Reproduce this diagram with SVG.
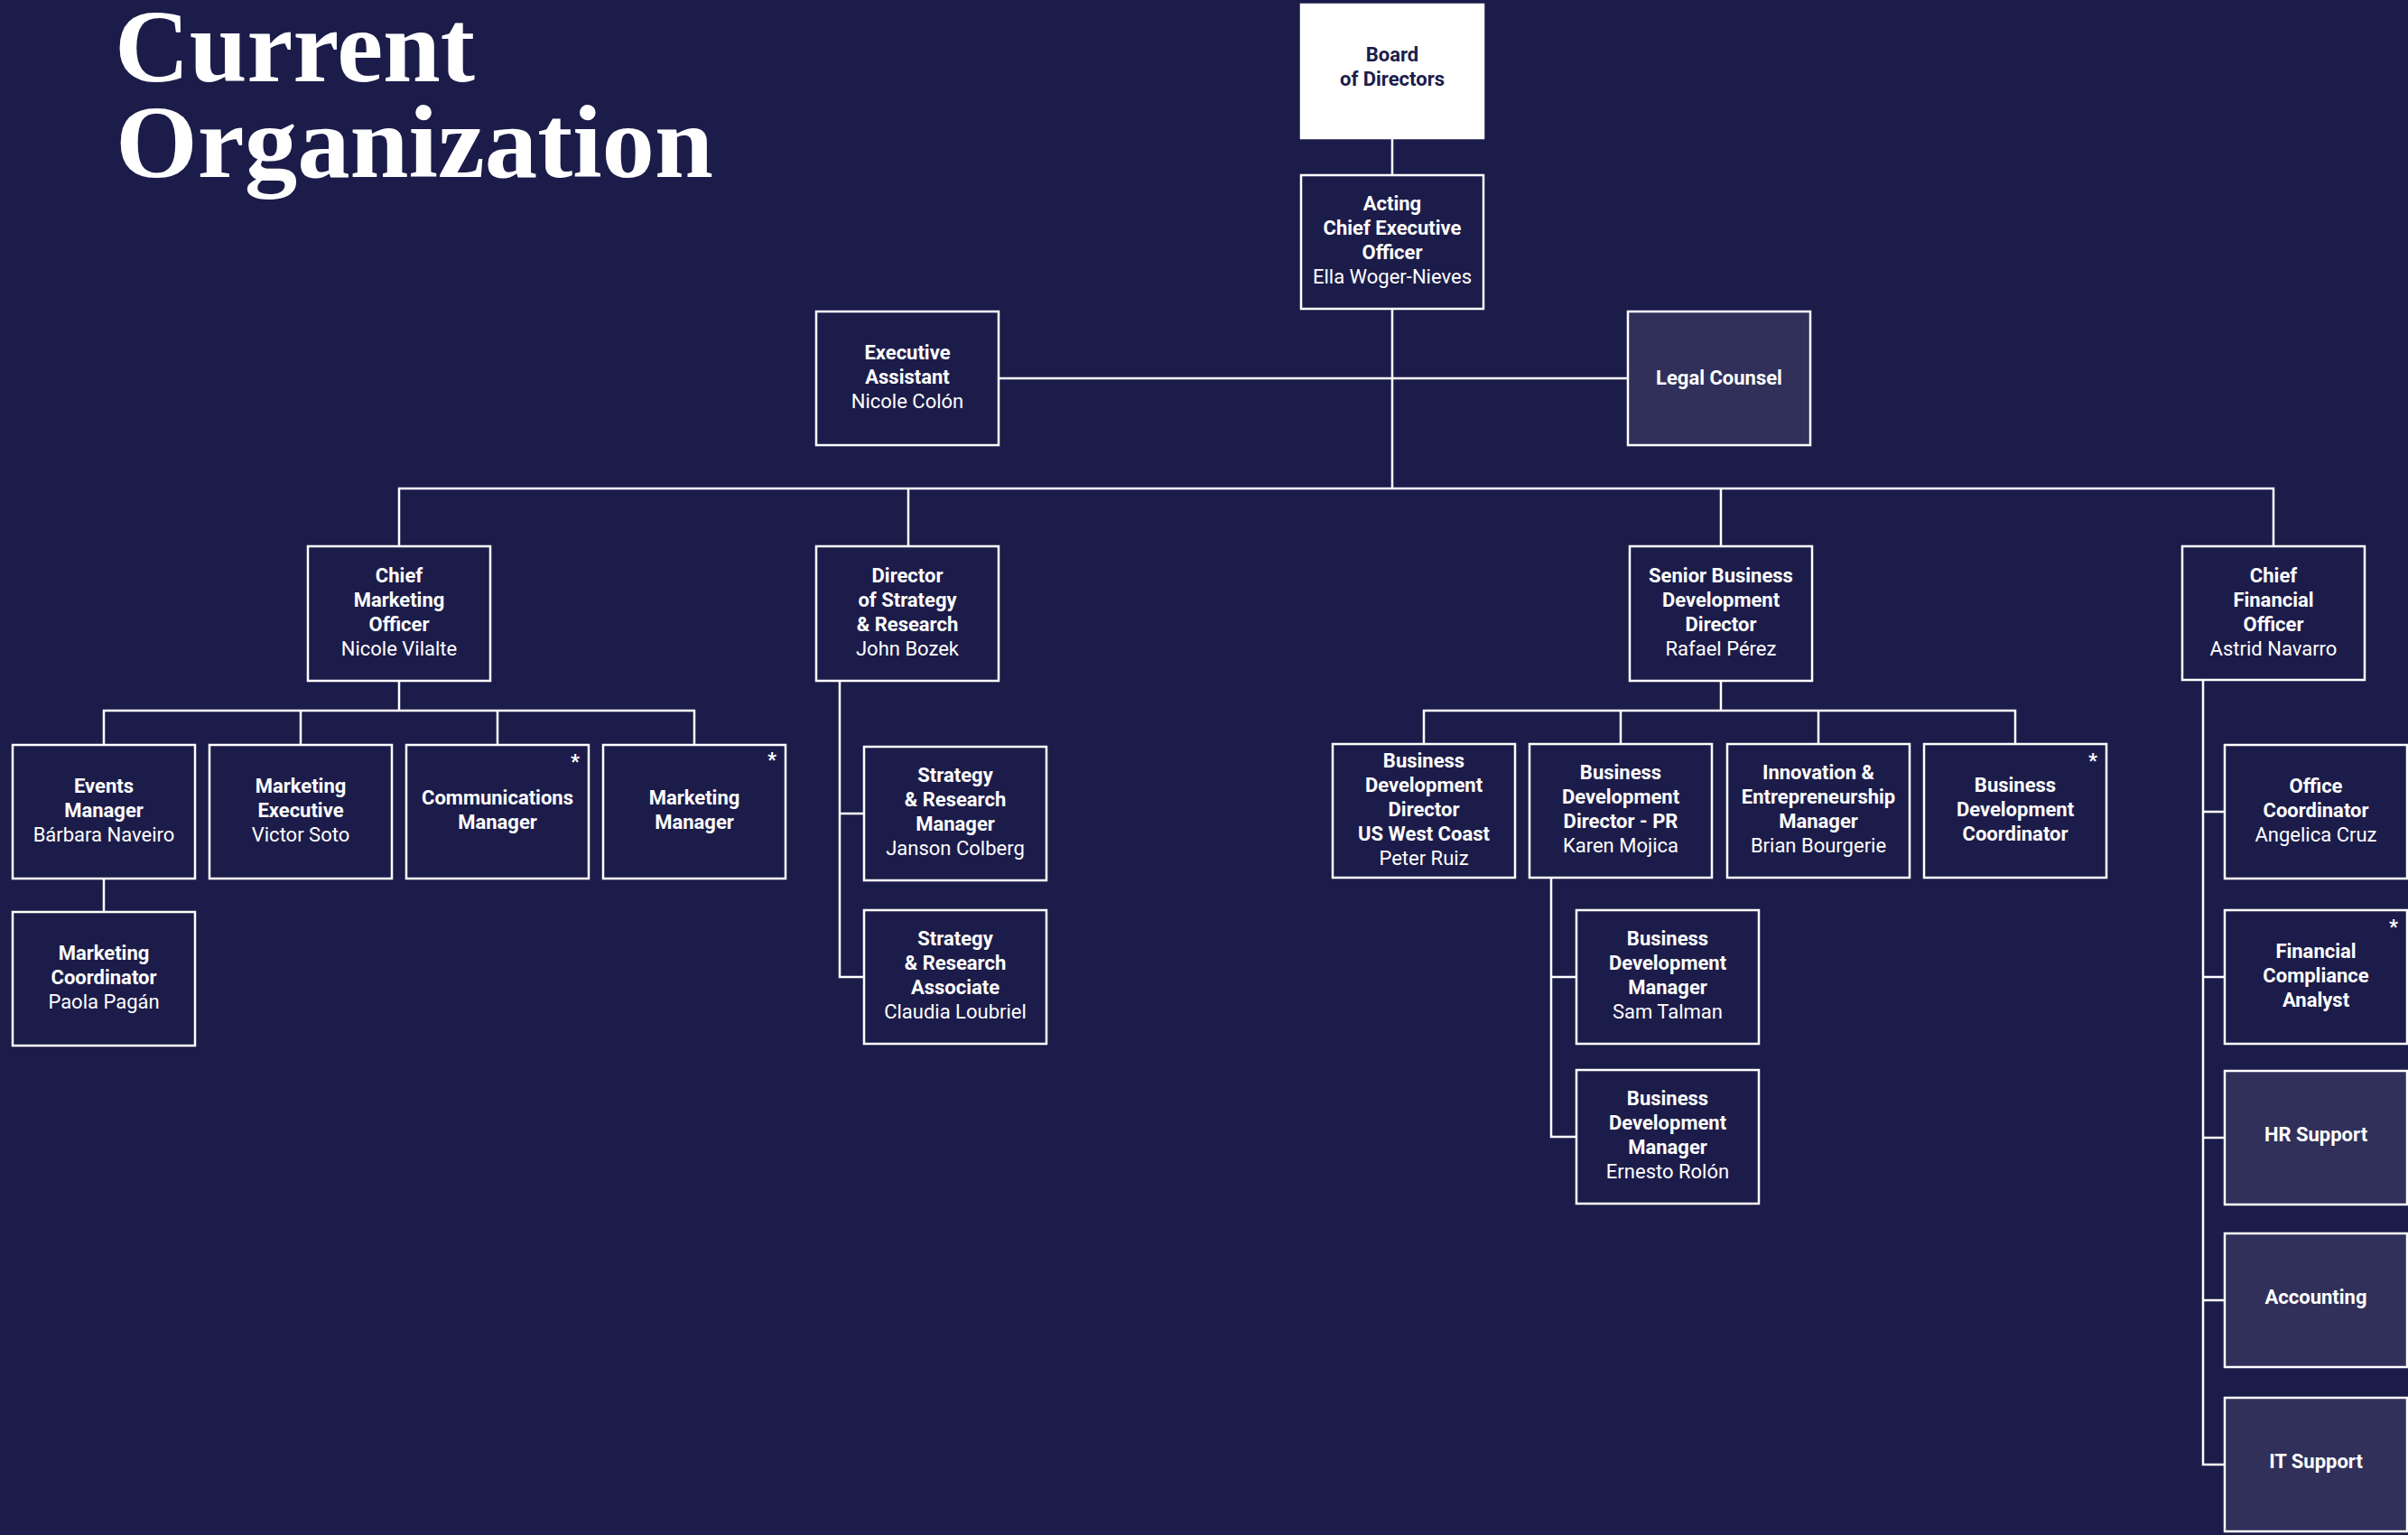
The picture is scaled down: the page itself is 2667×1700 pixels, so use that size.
<svg xmlns="http://www.w3.org/2000/svg" width="2667" height="1700" viewBox="0 0 2667 1700">
<style>
.bg{fill:#1c1c4a}
.box{fill:#1c1c4a;stroke:#ffffff;stroke-width:2.5}
.box.sp{fill:#30305a}
.box.wh{fill:#ffffff;stroke:#ffffff}
.c{fill:none;stroke:#ffffff;stroke-width:2.5}
text{font-family:Roboto,"Liberation Sans",sans-serif;font-size:22px;fill:#ffffff;text-anchor:middle}
.b{font-weight:700}
.r{font-weight:400}
.dk{fill:#1c1c4a}
.ast{font-weight:700;font-size:22px}
.title{font-family:"Liberation Serif","DejaVu Serif",serif;font-weight:700;font-size:114px;text-anchor:start}
</style>
<rect class="bg" x="0" y="0" width="2667" height="1700"/>
<g id="title">
<text class="title" x="127" y="90" textLength="399" lengthAdjust="spacingAndGlyphs">Current</text>
<text class="title" x="128" y="196" textLength="662" lengthAdjust="spacingAndGlyphs">Organization</text>
</g>
<g id="connectors">
<path class="c" d="M1542 153V194"/>
<path class="c" d="M1542 342V541"/>
<path class="c" d="M1106 419H1803"/>
<path class="c" d="M442 605V541H2518V605M1006 541V605M1906 541V605"/>
<path class="c" d="M442 754V787M115 825V787H769V825M333 787V825M551 787V825"/>
<path class="c" d="M115 973V1010"/>
<path class="c" d="M930 754V1082H957M930 901H957"/>
<path class="c" d="M1906 754V787M1577 824V787H2232V824M1795 787V824M2014 787V824"/>
<path class="c" d="M1718 972V1259H1746M1718 1082H1746"/>
<path class="c" d="M2440 753V1622H2464M2440 899H2464M2440 1082H2464M2440 1260H2464M2440 1440H2464"/>
</g>
<g id="board"><rect class="box wh" x="1441" y="5" width="202" height="148"/>
<text class="b dk" x="1542" y="68">Board</text><text class="b dk" x="1542" y="95">of Directors</text></g>
<g id="ceo"><rect class="box" x="1441" y="194" width="202" height="148"/>
<text class="b" x="1542" y="233">Acting</text><text class="b" x="1542" y="260">Chief Executive</text><text class="b" x="1542" y="287">Officer</text><text class="r" x="1542" y="314">Ella Woger-Nieves</text></g>
<g id="ea"><rect class="box" x="904" y="345" width="202" height="148"/>
<text class="b" x="1005" y="398">Executive</text><text class="b" x="1005" y="425">Assistant</text><text class="r" x="1005" y="452">Nicole Colón</text></g>
<g id="legal"><rect class="box sp" x="1803" y="345" width="202" height="148"/>
<text class="b" x="1904" y="426">Legal Counsel</text></g>
<g id="cmo"><rect class="box" x="341" y="605" width="202" height="149"/>
<text class="b" x="442" y="645">Chief</text><text class="b" x="442" y="672">Marketing</text><text class="b" x="442" y="699">Officer</text><text class="r" x="442" y="726">Nicole Vilalte</text></g>
<g id="dsr"><rect class="box" x="904" y="605" width="202" height="149"/>
<text class="b" x="1005" y="645">Director</text><text class="b" x="1005" y="672">of Strategy</text><text class="b" x="1005" y="699">&amp; Research</text><text class="r" x="1005" y="726">John Bozek</text></g>
<g id="sbdd"><rect class="box" x="1805" y="605" width="202" height="149"/>
<text class="b" x="1906" y="645">Senior Business</text><text class="b" x="1906" y="672">Development</text><text class="b" x="1906" y="699">Director</text><text class="r" x="1906" y="726">Rafael Pérez</text></g>
<g id="cfo"><rect class="box" x="2417" y="605" width="202" height="148"/>
<text class="b" x="2518" y="645">Chief</text><text class="b" x="2518" y="672">Financial</text><text class="b" x="2518" y="699">Officer</text><text class="r" x="2518" y="726">Astrid Navarro</text></g>
<g id="events"><rect class="box" x="14" y="825" width="202" height="148"/>
<text class="b" x="115" y="878">Events</text><text class="b" x="115" y="905">Manager</text><text class="r" x="115" y="932">Bárbara Naveiro</text></g>
<g id="mexec"><rect class="box" x="232" y="825" width="202" height="148"/>
<text class="b" x="333" y="878">Marketing</text><text class="b" x="333" y="905">Executive</text><text class="r" x="333" y="932">Victor Soto</text></g>
<g id="comms"><rect class="box" x="450" y="825" width="202" height="148"/>
<text class="b" x="551" y="891">Communications</text><text class="b" x="551" y="918">Manager</text><text class="ast" x="637" y="851">*</text></g>
<g id="mmgr"><rect class="box" x="668" y="825" width="202" height="148"/>
<text class="b" x="769" y="891">Marketing</text><text class="b" x="769" y="918">Manager</text><text class="ast" x="855" y="849">*</text></g>
<g id="mcoord"><rect class="box" x="14" y="1010" width="202" height="148"/>
<text class="b" x="115" y="1063">Marketing</text><text class="b" x="115" y="1090">Coordinator</text><text class="r" x="115" y="1117">Paola Pagán</text></g>
<g id="srm"><rect class="box" x="957" y="827" width="202" height="148"/>
<text class="b" x="1058" y="866">Strategy</text><text class="b" x="1058" y="893">&amp; Research</text><text class="b" x="1058" y="920">Manager</text><text class="r" x="1058" y="947">Janson Colberg</text></g>
<g id="sra"><rect class="box" x="957" y="1008" width="202" height="148"/>
<text class="b" x="1058" y="1047">Strategy</text><text class="b" x="1058" y="1074">&amp; Research</text><text class="b" x="1058" y="1101">Associate</text><text class="r" x="1058" y="1128">Claudia Loubriel</text></g>
<g id="bdwest"><rect class="box" x="1476" y="824" width="202" height="148"/>
<text class="b" x="1577" y="850">Business</text><text class="b" x="1577" y="877">Development</text><text class="b" x="1577" y="904">Director</text><text class="b" x="1577" y="931">US West Coast</text><text class="r" x="1577" y="958">Peter Ruiz</text></g>
<g id="bdpr"><rect class="box" x="1694" y="824" width="202" height="148"/>
<text class="b" x="1795" y="863">Business</text><text class="b" x="1795" y="890">Development</text><text class="b" x="1795" y="917">Director - PR</text><text class="r" x="1795" y="944">Karen Mojica</text></g>
<g id="innov"><rect class="box" x="1913" y="824" width="202" height="148"/>
<text class="b" x="2014" y="863">Innovation &amp;</text><text class="b" x="2014" y="890">Entrepreneurship</text><text class="b" x="2014" y="917">Manager</text><text class="r" x="2014" y="944">Brian Bourgerie</text></g>
<g id="bdcoord"><rect class="box" x="2131" y="824" width="202" height="148"/>
<text class="b" x="2232" y="877">Business</text><text class="b" x="2232" y="904">Development</text><text class="b" x="2232" y="931">Coordinator</text><text class="ast" x="2318" y="850">*</text></g>
<g id="bdm1"><rect class="box" x="1746" y="1008" width="202" height="148"/>
<text class="b" x="1847" y="1047">Business</text><text class="b" x="1847" y="1074">Development</text><text class="b" x="1847" y="1101">Manager</text><text class="r" x="1847" y="1128">Sam Talman</text></g>
<g id="bdm2"><rect class="box" x="1746" y="1185" width="202" height="148"/>
<text class="b" x="1847" y="1224">Business</text><text class="b" x="1847" y="1251">Development</text><text class="b" x="1847" y="1278">Manager</text><text class="r" x="1847" y="1305">Ernesto Rolón</text></g>
<g id="office"><rect class="box" x="2464" y="825" width="202" height="148"/>
<text class="b" x="2565" y="878">Office</text><text class="b" x="2565" y="905">Coordinator</text><text class="r" x="2565" y="932">Angelica Cruz</text></g>
<g id="fca"><rect class="box" x="2464" y="1008" width="202" height="148"/>
<text class="b" x="2565" y="1061">Financial</text><text class="b" x="2565" y="1088">Compliance</text><text class="b" x="2565" y="1115">Analyst</text><text class="ast" x="2651" y="1034">*</text></g>
<g id="hr"><rect class="box sp" x="2464" y="1186" width="202" height="148"/>
<text class="b" x="2565" y="1264">HR Support</text></g>
<g id="acct"><rect class="box sp" x="2464" y="1366" width="202" height="148"/>
<text class="b" x="2565" y="1444">Accounting</text></g>
<g id="it"><rect class="box sp" x="2464" y="1548" width="202" height="148"/>
<text class="b" x="2565" y="1626">IT Support</text></g>
</svg>
